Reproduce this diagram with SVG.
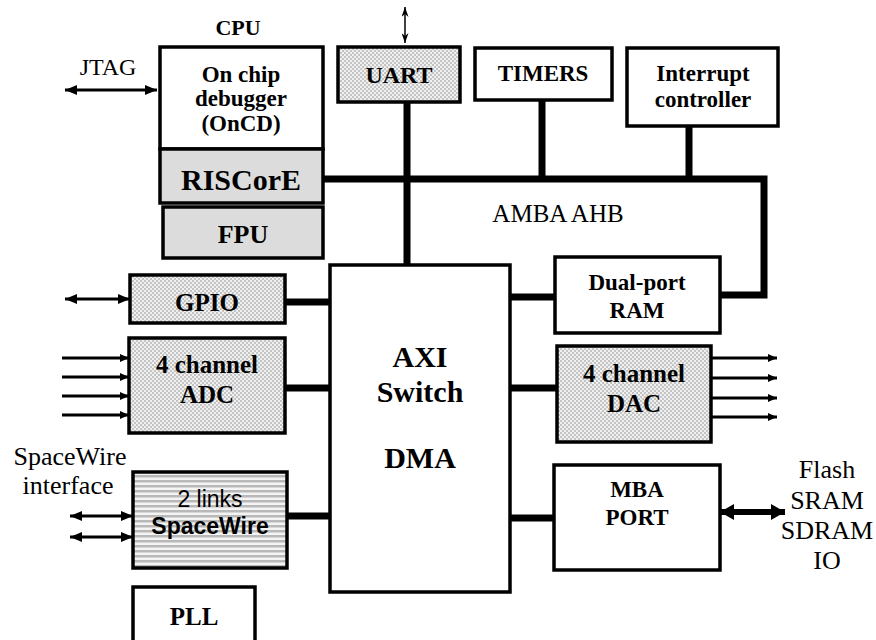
<svg xmlns="http://www.w3.org/2000/svg" width="876" height="640" viewBox="0 0 876 640">
<style>
.box{stroke:#000;stroke-width:3.5;fill:#fff}
.gray{fill:#dcdcdc}
.chk{fill:url(#checker)}
.str{fill:url(#stripes)}
.tb{font-family:"Liberation Serif",serif;font-weight:bold;fill:#000;text-anchor:middle}
.tn{font-family:"Liberation Serif",serif;fill:#000;text-anchor:middle}
.bus{stroke:#000;stroke-width:7;fill:none;stroke-linejoin:miter;stroke-linecap:butt}
.arr{stroke:#000;stroke-width:3;fill:none}
</style>
<defs>
<pattern id="checker" width="4" height="4" patternUnits="userSpaceOnUse">
<rect width="4" height="4" fill="#f0f0f0"/>
<rect width="2" height="2" fill="#c4c4c4"/>
<rect x="2" y="2" width="2" height="2" fill="#c4c4c4"/>
</pattern>
<pattern id="stripes" width="5" height="5" patternUnits="userSpaceOnUse">
<rect width="5" height="5" fill="#f4f4f4"/>
<rect width="5" height="2.5" fill="#b8b8b8"/>
</pattern>
<marker id="ah" markerUnits="userSpaceOnUse" markerWidth="12" markerHeight="10" refX="12" refY="5" orient="auto-start-reverse">
<path d="M0,0 L12,5 L0,10 z" fill="#000"/>
</marker>
<marker id="ahs" markerUnits="userSpaceOnUse" markerWidth="9" markerHeight="8" refX="9" refY="4" orient="auto-start-reverse">
<path d="M0,0 L9,4 L0,8 z" fill="#000"/>
</marker>
<marker id="aht" markerUnits="userSpaceOnUse" markerWidth="10" markerHeight="7" refX="10" refY="3.5" orient="auto-start-reverse">
<path d="M0,0 L10,3.5 L0,7 L3,3.5 z" fill="#000"/>
</marker>
<marker id="ahb" markerUnits="userSpaceOnUse" markerWidth="14" markerHeight="16" refX="14" refY="8" orient="auto-start-reverse">
<path d="M0,0 L14,8 L0,16 z" fill="#000"/>
</marker>
</defs>
<rect width="876" height="640" fill="#fff"/>

<g id="connectors">
<path class="bus" d="M323,179 H764 V295 H720"/>
<path class="bus" d="M407,102 V265"/>
<path class="bus" d="M542,100 V179"/>
<path class="bus" d="M689,126 V179"/>
<path class="bus" d="M510,297 H555"/>
<path class="bus" d="M285,302 H330"/>
<path class="bus" d="M285,388 H330"/>
<path class="bus" d="M287,516 H330"/>
<path class="bus" d="M510,388 H557"/>
<path class="bus" d="M510,518 H554"/>
<line class="arr" x1="65" y1="90" x2="157" y2="90" marker-start="url(#ah)" marker-end="url(#ah)"/>
<line x1="405" y1="7" x2="405" y2="43" stroke="#000" stroke-width="1.5" marker-start="url(#aht)" marker-end="url(#aht)"/>
<line class="arr" x1="65" y1="299" x2="130" y2="299" marker-start="url(#ah)" marker-end="url(#ah)"/>
<line class="arr" x1="62" y1="358" x2="129" y2="358" marker-end="url(#ahs)"/>
<line class="arr" x1="62" y1="377" x2="129" y2="377" marker-end="url(#ahs)"/>
<line class="arr" x1="62" y1="396" x2="129" y2="396" marker-end="url(#ahs)"/>
<line class="arr" x1="62" y1="415" x2="129" y2="415" marker-end="url(#ahs)"/>
<line class="arr" x1="70" y1="516" x2="133" y2="516" marker-start="url(#ah)" marker-end="url(#ah)"/>
<line class="arr" x1="70" y1="537" x2="133" y2="537" marker-start="url(#ah)" marker-end="url(#ah)"/>
<line class="arr" x1="711" y1="358" x2="777" y2="358" marker-end="url(#ahs)"/>
<line class="arr" x1="711" y1="378" x2="777" y2="378" marker-end="url(#ahs)"/>
<line class="arr" x1="711" y1="398" x2="777" y2="398" marker-end="url(#ahs)"/>
<line class="arr" x1="711" y1="417" x2="777" y2="417" marker-end="url(#ahs)"/>
<line x1="720" y1="512" x2="785" y2="512" stroke="#000" stroke-width="6" marker-start="url(#ahb)" marker-end="url(#ahb)"/>
</g>

<g id="labels">
<text class="tb" x="238" y="35" font-size="22">CPU</text>
<text class="tn" x="108" y="75" font-size="24">JTAG</text>
<text class="tn" x="558" y="222" font-size="25">AMBA AHB</text>
<text class="tn" x="70" y="465" font-size="26">SpaceWire</text>
<text class="tn" x="68" y="494" font-size="26">interface</text>
<text class="tn" x="827" y="478" font-size="26">Flash</text>
<text class="tn" x="827" y="509" font-size="26">SRAM</text>
<text class="tn" x="827" y="539" font-size="26">SDRAM</text>
<text class="tn" x="827" y="569" font-size="26">IO</text>
</g>

<g id="oncd">
<rect class="box" x="160" y="47" width="163" height="102"/>
<text class="tb" x="241" y="82" font-size="23">On chip</text>
<text class="tb" x="241" y="106" font-size="23">debugger</text>
<text class="tb" x="241" y="131" font-size="23">(OnCD)</text>
</g>
<g id="riscore">
<rect class="box gray" x="160" y="149" width="163" height="54"/>
<text class="tb" x="241" y="190" font-size="30">RISCorE</text>
</g>
<g id="fpu">
<rect class="box gray" x="163" y="207" width="160" height="51"/>
<text class="tb" x="243" y="243" font-size="26">FPU</text>
</g>
<g id="uart">
<rect class="box chk" x="338" y="47" width="122" height="55"/>
<text class="tb" x="399" y="83" font-size="24">UART</text>
</g>
<g id="timers">
<rect class="box" x="475" y="48" width="137" height="52"/>
<text class="tb" x="543" y="81" font-size="23">TIMERS</text>
</g>
<g id="interrupt">
<rect class="box" x="627" y="48" width="151" height="78"/>
<text class="tb" x="703" y="81" font-size="23">Interrupt</text>
<text class="tb" x="703" y="107" font-size="23">controller</text>
</g>
<g id="dualport">
<rect class="box" x="555" y="257" width="165" height="76"/>
<text class="tb" x="637" y="290" font-size="23">Dual-port</text>
<text class="tb" x="637" y="318" font-size="23">RAM</text>
</g>
<g id="axi">
<rect class="box" x="330" y="265" width="180" height="327"/>
<text class="tb" x="420" y="367" font-size="30">AXI</text>
<text class="tb" x="420" y="402" font-size="30">Switch</text>
<text class="tb" x="420" y="468" font-size="30">DMA</text>
</g>
<g id="gpio">
<rect class="box chk" x="130" y="275" width="155" height="48"/>
<text class="tb" x="207" y="311" font-size="25">GPIO</text>
</g>
<g id="adc">
<rect class="box chk" x="129" y="338" width="156" height="95"/>
<text class="tb" x="207" y="373" font-size="25">4 channel</text>
<text class="tb" x="207" y="403" font-size="25">ADC</text>
</g>
<g id="dac">
<rect class="box chk" x="557" y="346" width="154" height="96"/>
<text class="tb" x="634" y="382" font-size="25">4 channel</text>
<text class="tb" x="634" y="412" font-size="25">DAC</text>
</g>
<g id="spacewire">
<rect class="box str" x="133" y="472" width="154" height="96"/>
<text x="210" y="507" font-size="23" font-family="Liberation Sans, Arial, sans-serif" text-anchor="middle">2 links</text>
<text x="210" y="534" font-size="23" font-weight="bold" font-family="Liberation Sans, Arial, sans-serif" text-anchor="middle">SpaceWire</text>
</g>
<g id="mba">
<rect class="box" x="554" y="465" width="166" height="105"/>
<text class="tb" x="637" y="497" font-size="23">MBA</text>
<text class="tb" x="637" y="525" font-size="23">PORT</text>
</g>
<g id="pll">
<rect class="box" x="133" y="587" width="122" height="60"/>
<text class="tb" x="194" y="625" font-size="25">PLL</text>
</g>
</svg>
